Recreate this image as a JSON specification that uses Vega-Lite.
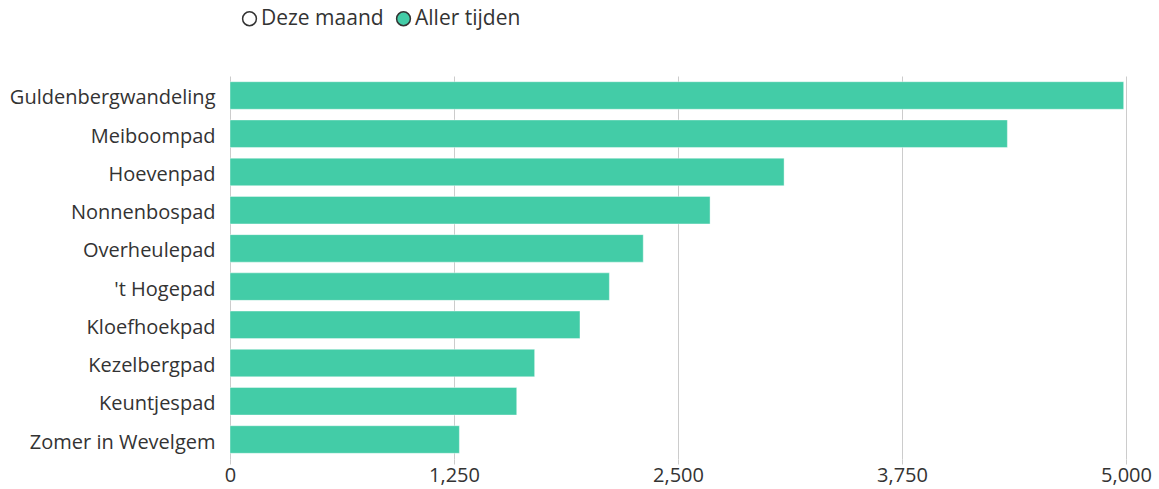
{
  "$schema": "https://vega.github.io/schema/vega-lite/v6.json",
  "width": 896,
  "height": 383,
  "autosize": {"type": "none"},
  "padding": {"left": 230, "top": 76, "right": 33, "bottom": 30},
  "background": "white",
  "config": {
    "font": "Open Sans",
    "view": {"stroke": null}
  },
  "data": {
    "values": [
      {"route": "Guldenbergwandeling", "count": 4987, "period": "Aller tijden"},
      {"route": "Meiboompad", "count": 4338, "period": "Aller tijden"},
      {"route": "Hoevenpad", "count": 3092, "period": "Aller tijden"},
      {"route": "Nonnenbospad", "count": 2679, "period": "Aller tijden"},
      {"route": "Overheulepad", "count": 2306, "period": "Aller tijden"},
      {"route": "'t Hogepad", "count": 2117, "period": "Aller tijden"},
      {"route": "Kloefhoekpad", "count": 1953, "period": "Aller tijden"},
      {"route": "Kezelbergpad", "count": 1700, "period": "Aller tijden"},
      {"route": "Keuntjespad", "count": 1600, "period": "Aller tijden"},
      {"route": "Zomer in Wevelgem", "count": 1280, "period": "Aller tijden"}
    ]
  },
  "mark": {"type": "bar", "stroke": "#ffffff", "strokeOpacity": 0.4, "strokeWidth": 1},
  "encoding": {
    "y": {
      "field": "route",
      "type": "nominal",
      "sort": null,
      "scale": {"paddingInner": 0.28, "paddingOuter": 0.15},
      "axis": {
        "title": null,
        "domain": false,
        "ticks": false,
        "labelPadding": 15,
        "labelOffset": 3,
        "labelFontSize": 20,
        "labelColor": "#333333",
        "labelFont": "Open Sans",
        "labelLimit": 300
      }
    },
    "x": {
      "field": "count",
      "type": "quantitative",
      "scale": {"domain": [0, 5000], "nice": false},
      "axis": {
        "title": null,
        "values": [0, 1250, 2500, 3750, 5000],
        "format": ",d",
        "domain": false,
        "grid": true,
        "gridColor": "#cccccc",
        "gridWidth": 1,
        "tickColor": "#cccccc",
        "tickSize": 5,
        "labelPadding": 1,
        "labelFlush": false,
        "labelFontSize": 20,
        "labelColor": "#333333",
        "labelFont": "Open Sans"
      }
    },
    "color": {
      "field": "period",
      "type": "nominal",
      "scale": {"domain": ["Deze maand", "Aller tijden"], "range": ["#ffffff", "#43cca7"]},
      "legend": {
        "title": null,
        "orient": "none",
        "legendX": 9,
        "legendY": -68,
        "direction": "horizontal",
        "symbolType": "circle",
        "symbolSize": 190,
        "symbolStrokeColor": "#333333",
        "symbolStrokeWidth": 1.5,
        "symbolOpacity": 1,
        "labelFontSize": 21,
        "labelColor": "#333333",
        "labelFont": "Open Sans",
        "labelOffset": 1,
        "columnPadding": 9
      }
    }
  }
}
